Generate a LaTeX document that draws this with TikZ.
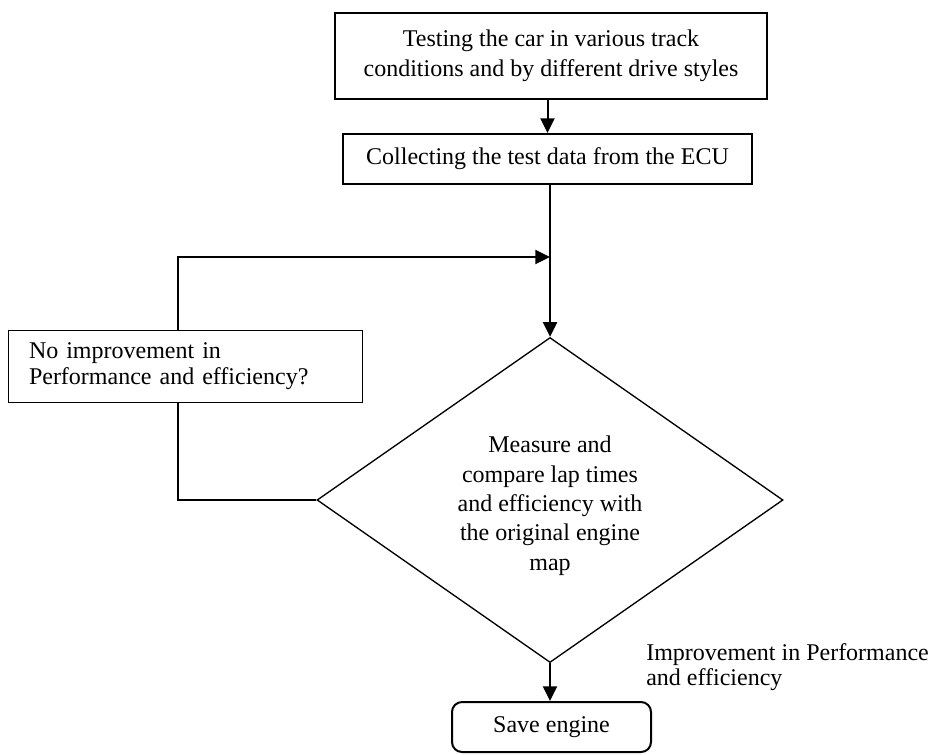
\documentclass[tikz,border=0pt]{standalone}
\usepackage{fontspec}
\setmainfont{Liberation Serif}
\usetikzlibrary{shapes.geometric, arrows.meta}

\begin{document}
\begin{tikzpicture}[x=0.75pt, y=-0.75pt,
	every node/.style={font=\fontsize{18}{22.5}\selectfont},
	caja/.style={draw, line width=1.5pt, align=center, inner sep=0pt},
	linea/.style={line width=1.5pt},
	flecha/.style={linea, -{Triangle[length=11pt, width=10.5pt]}}]
\newcommand{\lazo}{178}
\newcommand{\arriba}{257}
\useasboundingbox (0,0) rectangle (930,754);
\coordinate (L) at (\lazo,\arriba);

\node[caja, minimum width=324pt, minimum height=64.5pt] (T) at (551,56) {Testing the car in various track\\conditions and by different drive styles};	% prueba
\node[caja, minimum width=306.75pt, minimum height=37.5pt] (C) at (547.5,159) {Collecting the test data from the ECU};	% datos
\node[draw, diamond, aspect=1.43, minimum width=349.5pt, minimum height=243.75pt, inner sep=0pt, line width=1pt, align=center, font=\fontsize{18}{22}\selectfont] (M) at (550,500) {\rule{0pt}{21pt}Measure and\\compare lap times\\and efficiency with\\the original engine\\map};	% decision
\node[draw, line width=0.75pt, minimum width=265.5pt, minimum height=54pt, inner xsep=15.75pt, text width=234pt, align=left, font=\fontsize{18}{19.5}\selectfont] (N) at (185,366) {No improvement in\\Performance and efficiency?};	% no
\node[caja, rounded corners=7.5pt, minimum width=149.25pt, minimum height=37.5pt] (S) at (551.5,727) {Save engine};	% fin
\node[anchor=north west, inner sep=0pt, align=left, font=\fontsize{18}{19}\selectfont] (E) at (646,643) {Improvement in Performance\\and efficiency};	% si

\draw[flecha] (C.north |- T.south) -- (C.north);
\draw[flecha] (M.north |- C.south) -- (M.north);
\draw[linea] (M.west) -| (N.south -| L);
\draw[flecha] (N.north -| L) |- (M.north |- L);
\draw[flecha] (M.south) -- (M.south |- S.north);
\end{tikzpicture}
\end{document}
